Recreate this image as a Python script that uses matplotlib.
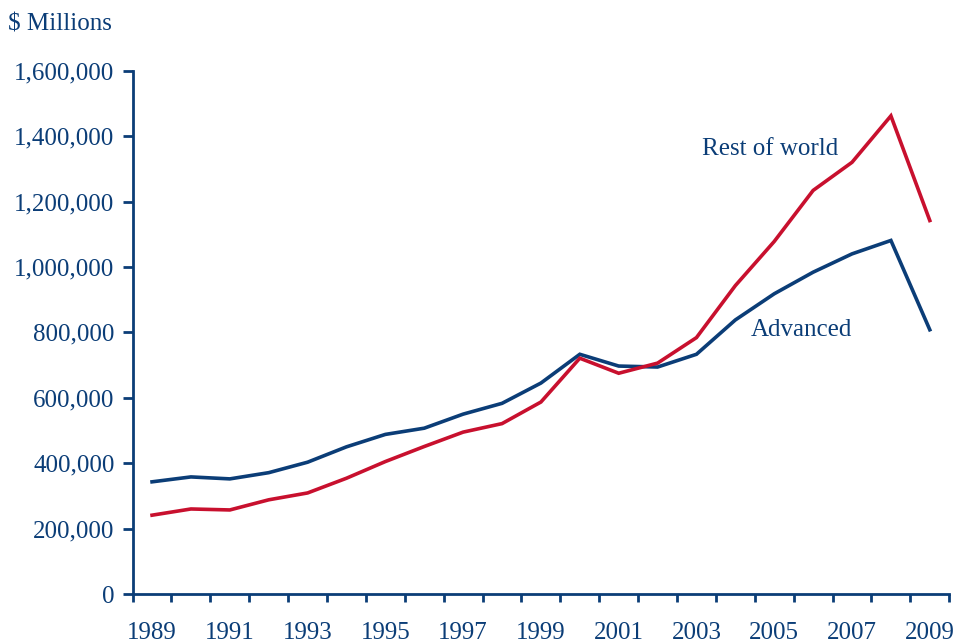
import numpy as np
import matplotlib
matplotlib.use("Agg")
import matplotlib.pyplot as plt
from matplotlib.ticker import FuncFormatter, FixedLocator

# Data ($ Millions)
years = list(range(1989, 2010))
advanced = [343000, 358000, 352000, 371000, 403000, 450000, 488000, 507000,
            550000, 583000, 645000, 733000, 697000, 694000, 733000, 838000,
            918000, 984000, 1040000, 1081000, 808000]
rest_of_world = [241000, 260000, 257000, 288000, 309000, 354000, 405000, 451000,
                 495000, 521000, 587000, 721000, 675000, 706000, 784000, 943000,
                 1078000, 1234000, 1320000, 1462000, 1142000]

navy = "#0B3D77"
red = "#C8102E"

plt.rcParams['font.family'] = ['Liberation Serif', 'DejaVu Serif']

fig = plt.figure(figsize=(9.54, 6.43), dpi=100)
ax = fig.add_axes([0.139, 0.0762, 0.856, 0.8138])

x = np.arange(len(years))
ax.plot(x, advanced, color=navy, lw=2.6, solid_joinstyle='miter')
ax.plot(x, rest_of_world, color=red, lw=2.6, solid_joinstyle='miter')

ax.set_xlim(-0.5, len(years) - 0.5)
ax.set_ylim(0, 1600000)
ax.set_yticks(np.arange(0, 1600001, 200000))
ax.yaxis.set_major_formatter(FuncFormatter(lambda v, p: f"{int(v):,}"))

# category axis: ticks between years, labels on every other year
ax.xaxis.set_minor_locator(FixedLocator(np.arange(-0.5, len(years), 1.0)))
ax.set_xticks(x[::2])
ax.set_xticklabels([str(y) for y in years[::2]])
ax.tick_params(axis='x', which='major', length=0, pad=20, labelsize=18, colors=navy)
ax.tick_params(axis='x', which='minor', length=6, width=2, color=navy, direction='out')
ax.tick_params(axis='y', length=7, width=2, color=navy, labelcolor=navy, labelsize=18, pad=6)

for s in ['top', 'right']:
    ax.spines[s].set_visible(False)
for s in ['left', 'bottom']:
    ax.spines[s].set_color(navy)
    ax.spines[s].set_linewidth(2)

ax.text(15.9, 1360000, "Rest of world", color=navy, fontsize=18, ha='center', va='center')
ax.text(16.7, 807000, "Advanced", color=navy, fontsize=18, ha='center', va='center')
fig.text(8 / 954, 1 - 25 / 643, "$ Millions", color=navy, fontsize=18, ha='left', va='center')

plt.savefig("out.png", dpi=100)
